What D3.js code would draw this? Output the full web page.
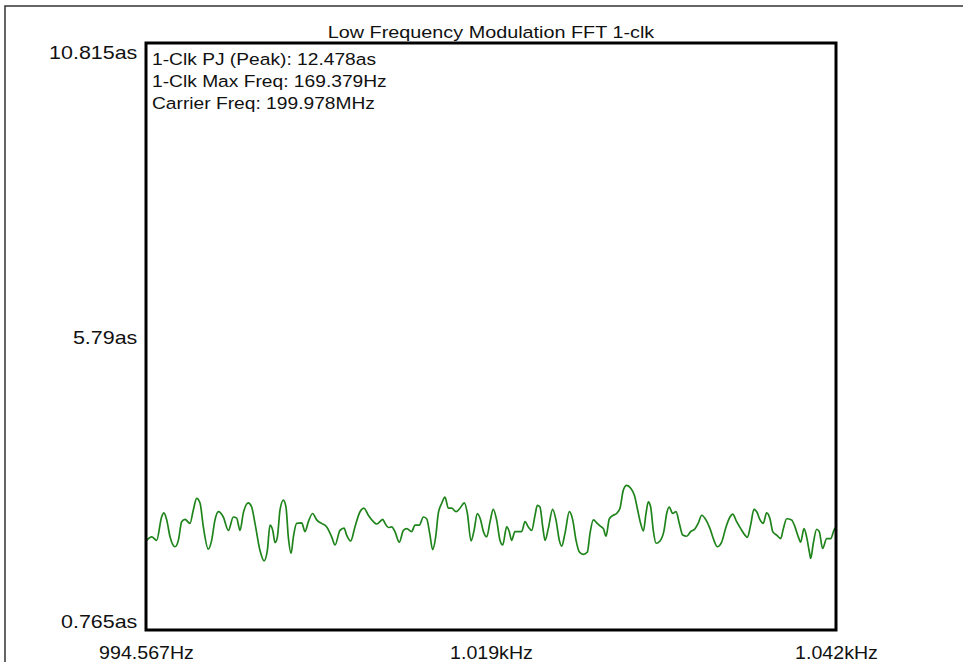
<!DOCTYPE html>
<html>
<head>
<meta charset="utf-8">
<script src="https://cdn.jsdelivr.net/npm/d3@7"></script>
<style>
  body { margin: 0; background: #fff; }
  svg { display: block; font-family: "Liberation Sans", Arial, sans-serif; }
</style>
</head>
<body>
<div id="chart"></div>
<script>
/* Low frequency modulation FFT, 1-clk */

const title = "Low Frequency Modulation FFT 1-clk";
const notes = ["1-Clk PJ (Peak): 12.478as", "1-Clk Max Freq: 169.379Hz", "Carrier Freq: 199.978MHz"];

const xTicks = [994.567, 1018.28, 1042.0];
const xTickLabels = ["994.567Hz", "1.019kHz", "1.042kHz"];
const yTicks = [10.815, 5.79, 0.765];
const yTickLabels = ["10.815as", "5.79as", "0.765as"];

// frequency (Hz) and jitter (as)
const freq = [
  994.61, 994.96, 995.30, 995.64, 995.80, 995.99, 996.22, 996.56, 996.79, 997.02,
  997.25, 997.59, 997.82, 998.05, 998.28, 998.51, 998.85, 999.08, 999.31, 999.54,
  999.88, 1000.23, 1000.57, 1000.80, 1001.03, 1001.26, 1001.60, 1001.83, 1002.06, 1002.40,
  1002.68, 1002.91, 1003.09, 1003.28, 1003.44, 1003.60, 1003.78, 1004.01, 1004.19, 1004.35,
  1004.54, 1004.70, 1004.92, 1005.27, 1005.50, 1005.73, 1006.02, 1006.30, 1006.64, 1006.99,
  1007.33, 1007.56, 1007.90, 1008.18, 1008.36, 1008.64, 1008.93, 1009.28, 1009.55, 1009.85,
  1010.20, 1010.42, 1010.65, 1010.84, 1011.00, 1011.23, 1011.46, 1011.68, 1011.98, 1012.26,
  1012.49, 1012.83, 1013.06, 1013.36, 1013.63, 1013.86, 1014.09, 1014.27, 1014.48, 1014.66,
  1014.89, 1015.12, 1015.35, 1015.58, 1015.88, 1016.15, 1016.45, 1016.66, 1016.91, 1017.12,
  1017.34, 1017.57, 1017.76, 1017.99, 1018.22, 1018.44, 1018.67, 1018.90, 1019.09, 1019.36,
  1019.54, 1019.70, 1019.93, 1020.16, 1020.39, 1020.62, 1020.85, 1021.08, 1021.31, 1021.47,
  1021.65, 1021.84, 1022.00, 1022.22, 1022.52, 1022.75, 1022.98, 1023.14, 1023.37, 1023.67,
  1023.90, 1024.13, 1024.36, 1024.63, 1024.91, 1025.09, 1025.32, 1025.59, 1025.82, 1026.01,
  1026.19, 1026.42, 1026.69, 1026.92, 1027.15, 1027.38, 1027.61, 1027.89, 1028.14, 1028.34,
  1028.57, 1028.76, 1028.94, 1029.10, 1029.26, 1029.44, 1029.63, 1029.90, 1030.18, 1030.36,
  1030.54, 1030.77, 1031.00, 1031.23, 1031.46, 1031.73, 1032.01, 1032.31, 1032.54, 1032.77,
  1033.06, 1033.34, 1033.61, 1033.84, 1034.14, 1034.44, 1034.71, 1034.90, 1035.17, 1035.45,
  1035.74, 1035.90, 1036.13, 1036.36, 1036.55, 1036.78, 1037.00, 1037.23, 1037.46, 1037.65,
  1037.92, 1038.20, 1038.38, 1038.61, 1038.95, 1039.18, 1039.41, 1039.57, 1039.80, 1039.98,
  1040.17, 1040.26, 1040.44, 1040.67, 1040.85, 1041.08, 1041.36, 1041.63, 1041.89, 1042.00
];
const jitter = [
  2.30, 2.36, 2.30, 2.70, 2.77, 2.65, 2.36, 2.19, 2.30, 2.62,
  2.66, 2.59, 2.82, 3.02, 2.94, 2.53, 2.15, 2.30, 2.65, 2.79,
  2.70, 2.47, 2.70, 2.68, 2.47, 2.77, 2.94, 2.87, 2.59, 2.13,
  1.95, 2.13, 2.56, 2.47, 2.26, 2.36, 2.82, 2.99, 2.87, 2.36,
  2.08, 2.36, 2.59, 2.60, 2.45, 2.62, 2.76, 2.65, 2.59, 2.53,
  2.36, 2.22, 2.47, 2.51, 2.39, 2.29, 2.53, 2.79, 2.85, 2.73,
  2.62, 2.58, 2.62, 2.66, 2.59, 2.52, 2.53, 2.45, 2.27, 2.47,
  2.50, 2.45, 2.56, 2.56, 2.70, 2.67, 2.39, 2.14, 2.36, 2.76,
  2.93, 3.04, 2.85, 2.85, 2.79, 2.85, 2.94, 2.76, 2.29, 2.47,
  2.76, 2.65, 2.45, 2.36, 2.62, 2.83, 2.65, 2.30, 2.22, 2.53,
  2.45, 2.30, 2.45, 2.45, 2.45, 2.62, 2.53, 2.47, 2.73, 2.90,
  2.87, 2.53, 2.30, 2.50, 2.83, 2.65, 2.30, 2.20, 2.42, 2.79,
  2.65, 2.30, 2.10, 2.06, 2.10, 2.42, 2.65, 2.59, 2.54, 2.50,
  2.37, 2.67, 2.73, 2.76, 2.85, 3.16, 3.24, 3.19, 3.07, 2.85,
  2.59, 2.46, 2.76, 2.96, 2.87, 2.47, 2.25, 2.29, 2.47, 2.76,
  2.87, 2.76, 2.79, 2.59, 2.39, 2.37, 2.45, 2.50, 2.60, 2.73,
  2.65, 2.50, 2.30, 2.19, 2.27, 2.53, 2.70, 2.75, 2.62, 2.50,
  2.39, 2.35, 2.56, 2.83, 2.79, 2.65, 2.59, 2.77, 2.67, 2.45,
  2.39, 2.33, 2.50, 2.67, 2.65, 2.53, 2.36, 2.27, 2.50, 2.36,
  2.10, 1.99, 2.25, 2.49, 2.45, 2.16, 2.33, 2.33, 2.49, 2.52
];

const data = freq.map((f, i) => ({ f: f, v: jitter[i] }));

const width = 963,
      height = 662,
      margin = ({ top: 43, right: 127, bottom: 32, left: 146 });

const svg = d3.select("#chart")
              .append("svg")
              .attr("width", width)
              .attr("height", height)
              .attr("viewBox", [0, 0, width, height]);

// outer window frame (cut off at right and bottom)
svg.append("path")
   .attr("d", `M5,${height} V6 H${width}`)
   .attr("fill", "none")
   .attr("stroke", "#333")
   .attr("stroke-width", 1.5);

const x = d3.scaleLinear()
            .domain([xTicks[0], xTicks[2]])
            .range([margin.left, width - margin.right]);

const y = d3.scaleLinear()
            .domain([yTicks[2], yTicks[0]])
            .range([height - margin.bottom, margin.top]);

// title
svg.append("text")
   .attr("transform", `translate(${(margin.left + width - margin.right) / 2},38) scale(1.2,1)`)
   .attr("text-anchor", "middle")
   .attr("font-size", 16.5)
   .attr("fill", "#111")
   .text(title);

// x axis
const xAxis = g => g
    .attr("transform", `translate(0,${height - margin.bottom})`)
    .call(d3.axisBottom(x)
            .tickValues(xTicks)
            .tickFormat((d, i) => xTickLabels[i])
            .tickSize(0))
    .call(g => g.select(".domain").remove())
    .call(g => g.selectAll("text")
                .attr("y", 29)
                .attr("dy", 0)
                .attr("font-family", "Liberation Sans, Arial, sans-serif")
                .attr("font-size", 18)
                .attr("fill", "#111")
                .attr("transform", "scale(1.09,1)"));

// y axis
const yDy = [15.5, 6.5, -3];
const yAxis = g => g
    .attr("transform", `translate(${margin.left},0)`)
    .call(d3.axisLeft(y)
            .tickValues(yTicks)
            .tickFormat((d, i) => yTickLabels[i])
            .tickSize(0))
    .call(g => g.select(".domain").remove())
    .call(g => g.selectAll("text")
                .attr("x", -7.5)
                .attr("dy", (d, i) => yDy[i])
                .attr("font-family", "Liberation Sans, Arial, sans-serif")
                .attr("font-size", 18.5)
                .attr("fill", "#111")
                .attr("transform", "scale(1.16,1)"));

svg.append("g").call(xAxis);
svg.append("g").call(yAxis);

// trace
const line = d3.line()
               .curve(d3.curveMonotoneX)
               .x(d => x(d.f))
               .y(d => y(d.v));

svg.append("path")
   .datum(data)
   .attr("fill", "none")
   .attr("stroke", "#1f841b")
   .attr("stroke-width", 1.7)
   .attr("stroke-linejoin", "round")
   .attr("d", line);

// plot box
svg.append("rect")
   .attr("x", margin.left)
   .attr("y", margin.top)
   .attr("width", width - margin.right - margin.left)
   .attr("height", height - margin.bottom - margin.top)
   .attr("fill", "none")
   .attr("stroke", "#000")
   .attr("stroke-width", 3);

// annotation lines
svg.append("g")
   .selectAll("text")
   .data(notes)
   .join("text")
   .attr("transform", (d, i) => `translate(152,${64.5 + i * 22}) scale(1.13,1)`)
   .attr("font-size", 17)
   .attr("fill", "#111")
   .text(d => d);
</script>
</body>
</html>
